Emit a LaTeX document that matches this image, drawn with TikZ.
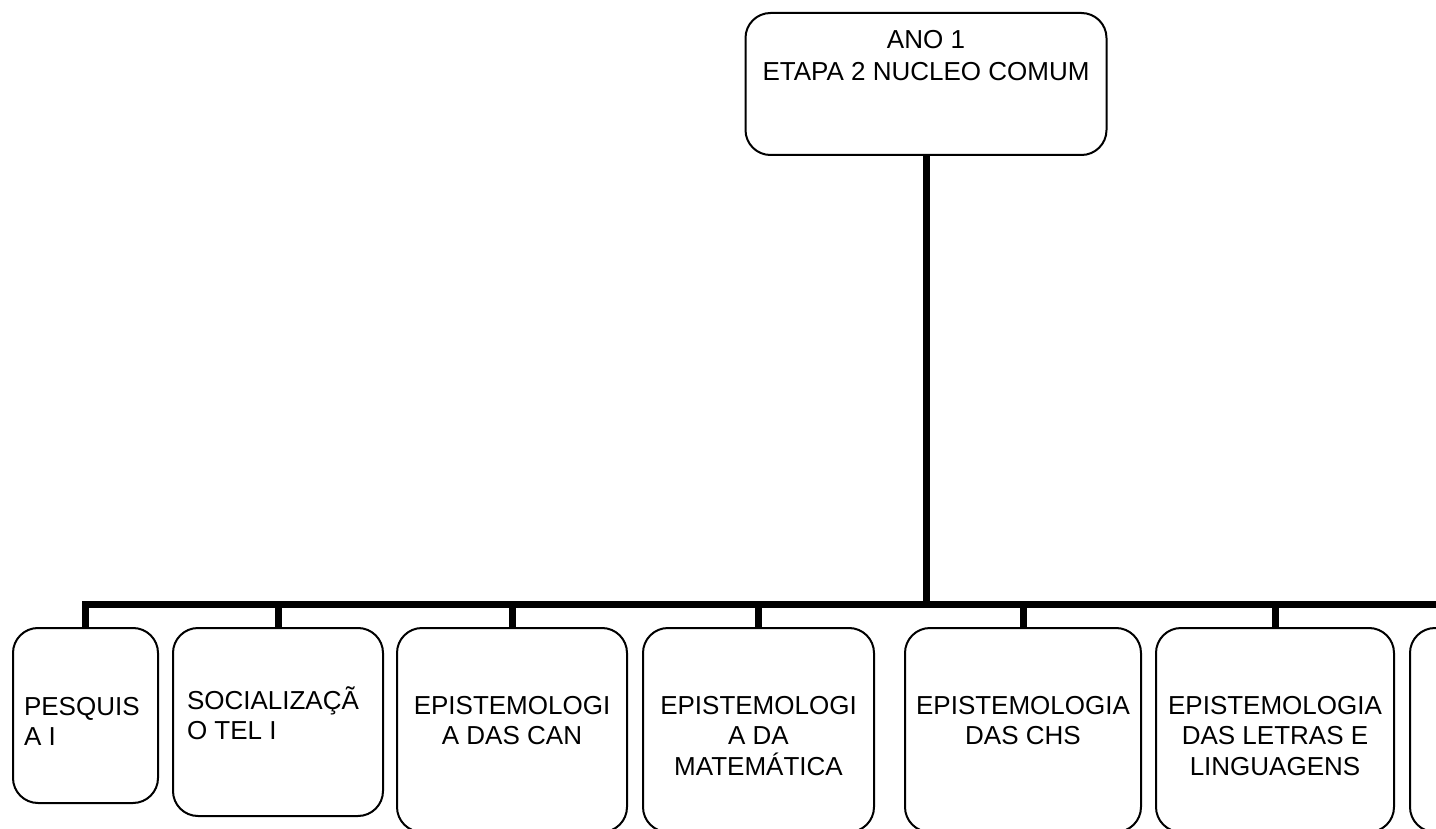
\documentclass[tikz,border=0pt]{standalone}
\usepackage{fontspec}
\setmainfont{Liberation Sans}
% strut fixing the height of the first text line, so each label can be
% placed by its first baseline
\newcommand\lnstrut{\rule{0pt}{26pt}}
\begin{document}
\begin{tikzpicture}[x=1pt,y=-1pt,
  box/.style={draw=black, line width=2pt, rounded corners=25pt,
              inner sep=0pt, outer sep=0pt, fill=white},
  conn/.style={draw=black, line width=7pt, line join=miter},
  lbl/.style={inner sep=0pt, outer sep=0pt,
              font=\fontsize{26}{30.5}\selectfont},
]
\useasboundingbox (0,0) rectangle (1436,829);
\fill[white] (0,0) rectangle (1436,829);
\clip (0,0) rectangle (1436,829);

% root
\node[box, minimum width=361pt, minimum height=142pt] (b0) at (926,84) {};
\node[lbl, anchor=north, align=center] (t0) at (926,23)
  {\lnstrut ANO 1\\[1pt]ETAPA 2 NUCLEO COMUM};

% children
\node[box, minimum width=145pt, minimum height=175pt] (b1) at (85.5,715.5) {};
\node[box, minimum width=210pt, minimum height=188pt] (b2) at (278,722) {};
\node[box, minimum width=230pt, minimum height=204pt] (b3) at (512,730) {};
\node[box, minimum width=231pt, minimum height=204pt] (b4) at (758.5,730) {};
\node[box, minimum width=236pt, minimum height=204pt] (b5) at (1023,730) {};
\node[box, minimum width=238pt, minimum height=204pt] (b6) at (1275,730) {};
\node[box, minimum width=238pt, minimum height=204pt] (b7) at (1529,730) {};

\node[lbl, anchor=north west, align=left] (t1) at (24,689)
  {\lnstrut PESQUIS\\A I};
\node[lbl, anchor=north west, align=left] (t2) at (187,683)
  {\lnstrut SOCIALIZAÇÃ\\O TEL I};
\node[lbl, anchor=north, align=center] (t3) at (512,688)
  {\lnstrut EPISTEMOLOGI\\A DAS CAN};
\node[lbl, anchor=north, align=center] (t4) at (758.5,688)
  {\lnstrut EPISTEMOLOGI\\A DA\\MATEMÁTICA};
\node[lbl, anchor=north, align=center] (t5) at (1023,688)
  {\lnstrut EPISTEMOLOGIA\\DAS CHS};
\node[lbl, anchor=north, align=center] (t6) at (1275,688)
  {\lnstrut EPISTEMOLOGIA\\DAS LETRAS E\\LINGUAGENS};

% connectors: trunk, bus and drops
\coordinate (bus) at (926,604);
\draw[conn] (b0.south) -- (bus);
\foreach \c in {b1,b2,b3,b4,b5,b6,b7}
  \draw[conn] (bus) -| (\c.north);
\end{tikzpicture}
\end{document}
